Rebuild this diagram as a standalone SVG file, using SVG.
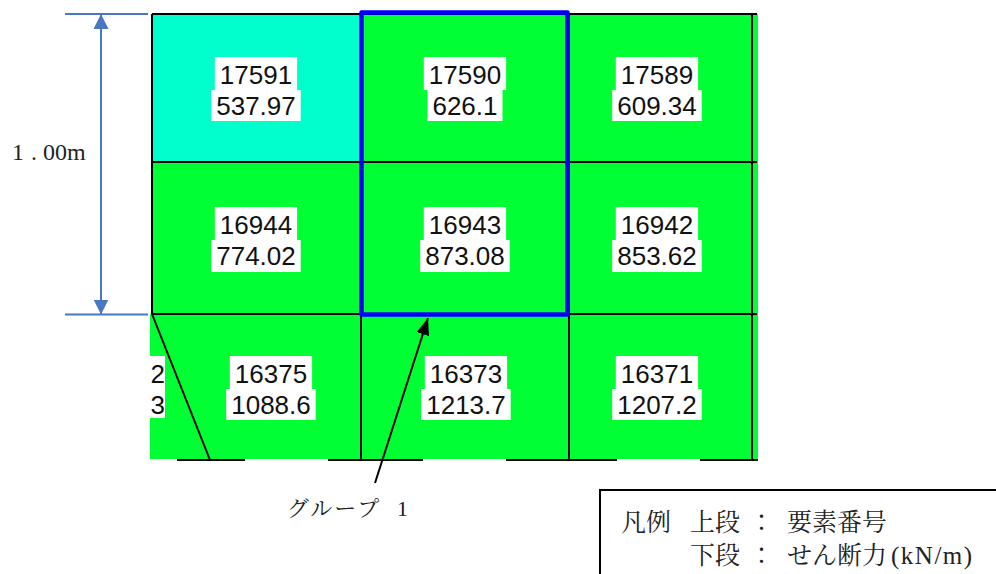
<svg xmlns="http://www.w3.org/2000/svg" width="996" height="574" viewBox="0 0 996 574">
<style>
.grn{fill:#00FF33}
.cy{fill:#00FFCC}
.ln{stroke:#000;stroke-width:2;fill:none}
.lb{fill:#fff}
.num{font-family:"Liberation Sans",Arial,sans-serif;font-size:26px;fill:#111;text-anchor:middle}
.dim{stroke:#4A78C0;stroke-width:2;fill:none}
.jp{font-family:"Liberation Serif","Noto Serif CJK JP","Noto Sans CJK JP",serif;fill:#222}
</style>
<defs>
<marker id="dimArr" viewBox="0 0 15 15" refX="15" refY="7.5" markerWidth="15" markerHeight="15" markerUnits="userSpaceOnUse" orient="auto-start-reverse">
<path d="M0,0 L15,7.5 L0,15 z" fill="#4A78C0"/>
</marker>
<marker id="blkArr" viewBox="0 0 17 13" refX="17" refY="6.5" markerWidth="17" markerHeight="13" markerUnits="userSpaceOnUse" orient="auto">
<path d="M0,0 L17,6.5 L0,13 z" fill="#000"/>
</marker>
<clipPath id="gridClip"><rect x="150" y="0" width="608" height="470"/></clipPath>
</defs>
<rect width="996" height="574" fill="#fff"/>

<g id="grid-bg">
<rect class="grn" x="152" y="14" width="606" height="300"/>
<rect class="grn" x="150" y="314" width="608" height="145"/>
<rect class="cy" x="152" y="14" width="209" height="148"/>
</g>

<g id="grid-lines">
<path class="ln" d="M152,14 H757 M152,162 H757 M152,314 H757 M152,14 V314 M361,14 V460 M569,14 V460 M752,14 V460"/>
<path class="ln" d="M152,314 L210,460"/>
<path class="ln" d="M177,460 H245 M328,460 H423 M506,460 H617 M700,460 H758"/>
</g>

<g id="cell-17591">
<rect class="lb" x="214.8" y="57" width="82.3" height="33"/>
<rect class="lb" x="211.2" y="90" width="89.5" height="31"/>
<text class="num" x="256" y="84">17591</text>
<text class="num" x="256" y="115">537.97</text>
</g>
<g id="cell-17590">
<rect class="lb" x="423.8" y="57" width="82.3" height="33"/>
<rect class="lb" x="427.5" y="90" width="75" height="31"/>
<text class="num" x="465" y="84">17590</text>
<text class="num" x="465" y="115">626.1</text>
</g>
<g id="cell-17589">
<rect class="lb" x="615.8" y="57" width="82.3" height="33"/>
<rect class="lb" x="612.2" y="90" width="89.5" height="31"/>
<text class="num" x="657" y="84">17589</text>
<text class="num" x="657" y="115">609.34</text>
</g>

<g id="cell-16944">
<rect class="lb" x="214.8" y="207" width="82.3" height="33"/>
<rect class="lb" x="211.2" y="240" width="89.5" height="32"/>
<text class="num" x="256" y="234">16944</text>
<text class="num" x="256" y="265">774.02</text>
</g>
<g id="cell-16943">
<rect class="lb" x="423.8" y="207" width="82.3" height="33"/>
<rect class="lb" x="420.2" y="240" width="89.5" height="32"/>
<text class="num" x="465" y="234">16943</text>
<text class="num" x="465" y="265">873.08</text>
</g>
<g id="cell-16942">
<rect class="lb" x="615.8" y="207" width="82.3" height="33"/>
<rect class="lb" x="612.2" y="240" width="89.5" height="32"/>
<text class="num" x="657" y="234">16942</text>
<text class="num" x="657" y="265">853.62</text>
</g>

<g id="cell-partial" clip-path="url(#gridClip)">
<rect class="lb" x="150" y="356" width="15" height="31"/>
<rect class="lb" x="150" y="387" width="15" height="31"/>
<text class="num" x="165" y="383" style="text-anchor:end">2</text>
<text class="num" x="165" y="414" style="text-anchor:end">3</text>
</g>
<g id="cell-16375">
<rect class="lb" x="229.8" y="356" width="82.3" height="33"/>
<rect class="lb" x="226.2" y="389" width="89.5" height="31"/>
<text class="num" x="271" y="383">16375</text>
<text class="num" x="271" y="414">1088.6</text>
</g>
<g id="cell-16373">
<rect class="lb" x="424.8" y="356" width="82.3" height="33"/>
<rect class="lb" x="421.2" y="389" width="89.5" height="31"/>
<text class="num" x="466" y="383">16373</text>
<text class="num" x="466" y="414">1213.7</text>
</g>
<g id="cell-16371">
<rect class="lb" x="615.8" y="356" width="82.3" height="33"/>
<rect class="lb" x="612.2" y="389" width="89.5" height="31"/>
<text class="num" x="657" y="383">16371</text>
<text class="num" x="657" y="414">1207.2</text>
</g>

<g id="group-1">
<rect x="361.5" y="12.5" width="206" height="302" fill="none" stroke="#0000FF" stroke-width="4.5" stroke-linejoin="round"/>
</g>

<g id="dimension">
<path class="dim" d="M65,14 H148 M65,314.5 H148"/>
<text class="jp" x="12" y="160" font-size="24">1<tspan dx="7">.</tspan><tspan dx="6">00m</tspan></text>
</g>

<g id="connectors">
<path class="dim" d="M101,14 V314.5" marker-start="url(#dimArr)" marker-end="url(#dimArr)"/>
<path d="M375,483 L428,318" stroke="#000" stroke-width="2" fill="none" marker-end="url(#blkArr)"/>
</g>

<g id="label-group1">
<text class="jp" y="516" font-size="22"><tspan x="287" letter-spacing="2">グループ</tspan><tspan x="397">1</tspan></text>
</g>

<g id="legend">
<path d="M600,574 V490 H996" stroke="#000" stroke-width="2" fill="none"/>
<text class="jp" font-size="25" y="531"><tspan x="621">凡例</tspan><tspan x="690">上段</tspan><tspan x="749">：</tspan><tspan x="787">要素番号</tspan></text>
<text class="jp" font-size="25" y="564"><tspan x="690">下段</tspan><tspan x="749">：</tspan><tspan x="787">せん断力</tspan><tspan x="891" letter-spacing="1.5">(kN/m)</tspan></text>
</g>
</svg>
